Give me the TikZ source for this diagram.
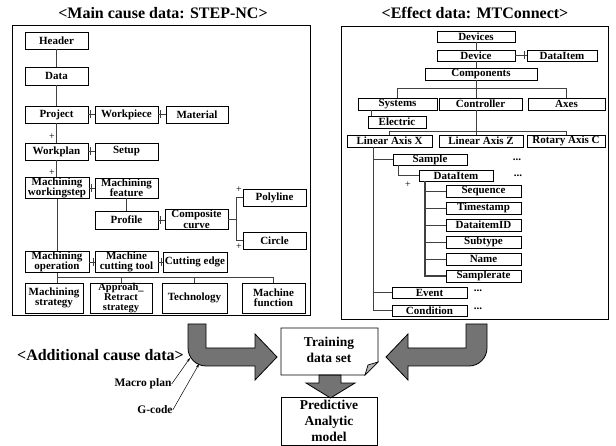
\documentclass[tikz,border=0pt]{standalone}
\usepackage{fontspec}
\setmainfont{Liberation Serif}
\usetikzlibrary{calc,arrows.meta}
\begin{document}
\begin{tikzpicture}[x=1pt,y=-1pt,
  lbox/.style={draw,line width=0.9pt,inner sep=0pt,align=center,
    font=\bfseries\fontsize{11}{10.5}\selectfont},
  rbox/.style={draw,line width=0.9pt,inner sep=0pt,minimum height=12pt,
    font=\bfseries\fontsize{11}{11}\selectfont},
  conn/.style={line width=0.9pt,black!75},
  frame/.style={line width=0.8pt},
  ttl/.style={font=\bfseries\fontsize{16}{16}\selectfont,inner sep=0pt},
  lbl/.style={font=\bfseries\fontsize{11.5}{11.5}\selectfont,inner sep=0pt},
  plus/.style={font=\fontsize{10}{10}\selectfont,inner sep=0pt},
  dots/.style={font=\bfseries\fontsize{11}{11}\selectfont,inner sep=0pt},
  garrow/.style={fill=black!55,draw=black,line width=0.8pt,line join=miter},
  big/.style={draw,line width=0.9pt,inner sep=0pt,align=center,
    font=\bfseries\fontsize{13.5}{16}\selectfont},
  thinarr/.style={line width=0.5pt,-{Stealth[length=4pt,width=2.5pt]}}]
\useasboundingbox (0,0) rectangle (616,446);

% headings
\node[ttl] (t1) at (163,13) {<Main cause data: STEP-NC>};
\node[ttl] (t2) at (475,13) {<Effect data: MTConnect>};

% panel frames
\draw[frame] (12,25) rectangle (310,315);
\draw[frame] (341,26) rectangle (608,319);

% ---------- STEP-NC tree ----------
\node[lbox,minimum width=63pt,minimum height=17pt] (hd) at (56.5,40.5) {Header};
\node[lbox,minimum width=63pt,minimum height=18pt] (dt) at (56.5,76) {Data};
\node[lbox,minimum width=63pt,minimum height=17pt] (pj) at (56.5,114.5) {Project};
\node[lbox,minimum width=63pt,minimum height=17pt] (wk) at (126.5,114.5) {Workpiece};
\node[lbox,minimum width=62pt,minimum height=17pt] (mt) at (197,114.5) {Material};
\node[lbox,minimum width=63pt,minimum height=17pt] (wp) at (56.5,151.5) {Workplan};
\node[lbox,minimum width=63pt,minimum height=17pt] (su) at (126.5,151.5) {Setup};
\node[lbox,minimum width=64pt,minimum height=20pt] (mw) at (57,188) {Machining\\workingstep};
\node[lbox,minimum width=63pt,minimum height=20pt] (mf) at (126.5,188) {Machining\\feature};
\node[lbox,minimum width=63pt,minimum height=18pt] (pf) at (126.5,220) {Profile};
\node[lbox,minimum width=63pt,minimum height=20pt] (cc) at (196.5,219.5) {Composite\\curve};
\node[lbox,minimum width=63pt,minimum height=17pt] (pl) at (274.5,197.5) {Polyline};
\node[lbox,minimum width=63pt,minimum height=17pt] (ci) at (274.5,240.5) {Circle};
\node[lbox,minimum width=64pt,minimum height=20pt] (mo) at (57,262) {Machining\\operation};
\node[lbox,minimum width=63pt,minimum height=20pt] (ct) at (126.5,262) {Machine\\cutting tool};
\node[lbox,minimum width=64pt,minimum height=20pt] (ce) at (195,262) {Cutting edge};
\node[lbox,minimum width=58pt,minimum height=30pt] (ms) at (54,298) {Machining\\strategy};
\node[lbox,minimum width=62pt,minimum height=30pt,
  font=\bfseries\fontsize{10.5}{10}\selectfont] (ar) at (121,298) {Approah\_\\Retract\\strategy};
\node[lbox,minimum width=65pt,minimum height=30pt] (tc) at (194.5,298) {Technology};
\node[lbox,minimum width=63pt,minimum height=30pt] (fn) at (273.5,298) {Machine\\function};

\newcommand\sidelink[3][.3]{%
  \draw[conn] (#2.east) -- (#2.east -| #3.west);
  \draw[conn] ($(#2.east)!#1!(#2.east -| #3.west)$) ++(0,-4) -- ++(0,8);}

\draw[conn] (hd.south) -- (dt.north);
\draw[conn] (dt.south) -- (pj.north);
\draw[conn] (pj.south) -- (wp.north);
\draw[conn] (wp.south) -- (wp.south |- mw.north);
\draw[conn] (mw.south) -- (mw.south |- mo.north);
\sidelink{pj}{wk}
\sidelink{wk}{mt}
\sidelink{wp}{su}
\sidelink{mw}{mf}
\draw[conn] (mf.south) -- (pf.north);
\sidelink{pf}{cc}
\sidelink[.7]{mo}{ct}
\sidelink[.7]{ct}{ce}
\coordinate (cb) at ($(cc.east)+(8,0)$);
\draw[conn] (cc.east) -- (cb);
\draw[conn] (pl.west) -| (cb) |- (ci.west);
\node[plus] (p3) at (239,190) {+};
\node[plus] (p4) at (239,247) {+};
\node[plus] (p1) at (52,137) {+};
\node[plus] (p2) at (52,173) {+};
\draw[conn] (mo.south) -- ++(0,5) coordinate (b0);
\draw[conn] (b0) -- (b0 |- ms.north);
\draw[conn] (b0) -| (ar.north);
\draw[conn] (b0) -| (tc.north);
\draw[conn] (b0) -| (fn.north);

% ---------- MTConnect tree ----------
\node[rbox,minimum width=78pt,minimum height=11pt] (dvs) at (476,36.5) {Devices};
\node[rbox,minimum width=78pt,minimum height=11pt] (dv) at (476,55.5) {Device};
\node[rbox,minimum width=70pt,minimum height=11pt] (di0) at (562,55.5) {DataItem};
\node[rbox,minimum width=112pt] (cp) at (481,74) {Components};
\node[rbox,minimum width=79pt] (sy) at (397.5,104) {Systems};
\node[rbox,minimum width=83pt] (cr) at (480.5,104) {Controller};
\node[rbox,minimum width=77pt] (ax) at (566.5,104) {Axes};
\node[rbox,minimum width=58pt] (el) at (397,122) {Electric};
\node[rbox,minimum width=85pt] (lx) at (389.5,141) {Linear Axis X};
\node[rbox,minimum width=84pt] (lz) at (481,141) {Linear Axis Z};
\node[rbox,minimum width=78pt] (rc) at (566,141) {Rotary Axis C};
\node[rbox,minimum width=74pt,minimum height=11pt] (sa) at (430,159.5) {Sample};
\node[rbox,minimum width=74pt,minimum height=11pt] (di) at (456,175.5) {DataItem};
\node[rbox,minimum width=75pt] (sq) at (483.5,191) {Sequence};
\node[rbox,minimum width=75pt] (ts) at (483.5,208) {Timestamp};
\node[rbox,minimum width=75pt] (id) at (483.5,225) {DataitemID};
\node[rbox,minimum width=75pt] (sb) at (483.5,242) {Subtype};
\node[rbox,minimum width=75pt] (nm) at (483.5,259) {Name};
\node[rbox,minimum width=75pt] (sr) at (483.5,276) {Samplerate};
\node[rbox,minimum width=75pt,minimum height=11pt] (ev) at (429.5,292.5) {Event};
\node[rbox,minimum width=75pt,minimum height=11pt] (cd) at (429.5,310.5) {Condition};

\node[dots] (d1) at (517,160) {...};
\node[dots] (d2) at (518,176) {...};
\node[dots] (d3) at (478,291) {...};
\node[dots] (d4) at (478,309) {...};
\node[plus] (p5) at (408,185) {+};

\draw[conn] (dvs.south) -- (dv.north);
\sidelink[.85]{dv}{di0}
\draw[conn] (dv.south) -- (dv.south |- cp.north);
\draw[conn] (dv.south |- cp.south) -- ++(0,8) coordinate (r1);
\draw[conn] (r1) -| (sy.north);
\draw[conn] (r1) -| (ax.north);
\draw[conn] (r1) -- (r1 |- cr.north);
\coordinate (e1) at ([xshift=4pt]el.north west);
\draw[conn] (e1) -- (e1 |- sy.south);
\draw[conn] (r1 |- cr.south) -- ++(0,21) coordinate (r2);
\draw[conn] (r2) -| (lx.north);
\draw[conn] (r2) -| (rc.north);
\draw[conn] (r2) -- (r2 |- lz.north);
\coordinate (k0) at ([xshift=-16.5pt]lx.south);
\draw[conn] (k0) |- (cd.west);
\draw[conn] (k0 |- ev.west) -- (ev.west);
\draw[conn] (k0 |- sa.west) -- (sa.west);
\coordinate (s1) at ([xshift=-32pt]sa.south);
\draw[conn] (s1) |- (di.west);
\coordinate (q0) at ([xshift=-31pt]di.south);
\draw[conn,line width=1.3pt] (q0) |- (sr.west);
\foreach \c in {sq,ts,id,sb,nm}{\draw[conn] (q0 |- \c.west) -- (\c.west);}

% ---------- data flow ----------
\node[ttl] (add) at (100.5,355) {<Additional cause data>};
\node[lbl] (mp) at (143,384) {Macro plan};
\node[lbl] (gc) at (155,410) {G-code};

% bent arrow from the STEP-NC panel
\draw[garrow] (188,324) -- (188,348) .. controls (188,357.9) and (196.1,366) .. (206,366)
  -- (255,366) -- (255,380) -- (277,357) -- (255,334) -- (255,348) -- (206,348) -- (206,324) -- cycle;
% bent arrow from the MTConnect panel
\draw[garrow] (487,324) -- (487,348) .. controls (487,357.9) and (478.9,366) .. (469,366)
  -- (408,366) -- (408,380) -- (386,357) -- (408,334) -- (408,348) -- (466,348) -- (466,324) -- cycle;
% arrow down to the model
\draw[garrow] (319,375) -- (319,383) -- (306,383) -- (330.5,398) -- (355,383) -- (341,383) -- (341,375) -- cycle;

% training data set sheet with folded corner
\draw[line width=0.9pt] (281,328) -- (378,328) -- (378,362) -- (365,375) -- (281,375) -- cycle;
\draw[line width=0.7pt,fill=black!30] (378,362) -- (365,375) -- (368,365) -- cycle;
\node[font=\bfseries\fontsize{13.5}{16}\selectfont,align=center,inner sep=0pt] (tr) at (329,350) {Training\\data set};
\node[big,minimum width=96pt,minimum height=48pt] (pm) at (329,421) {Predictive\\Analytic\\model};

\coordinate (h1) at (190,358);
\coordinate (h2) at (199,364);
\draw[thinarr] (mp.east) -- (h1);
\draw[thinarr] (gc.east) -- (h2);
\end{tikzpicture}
\end{document}
